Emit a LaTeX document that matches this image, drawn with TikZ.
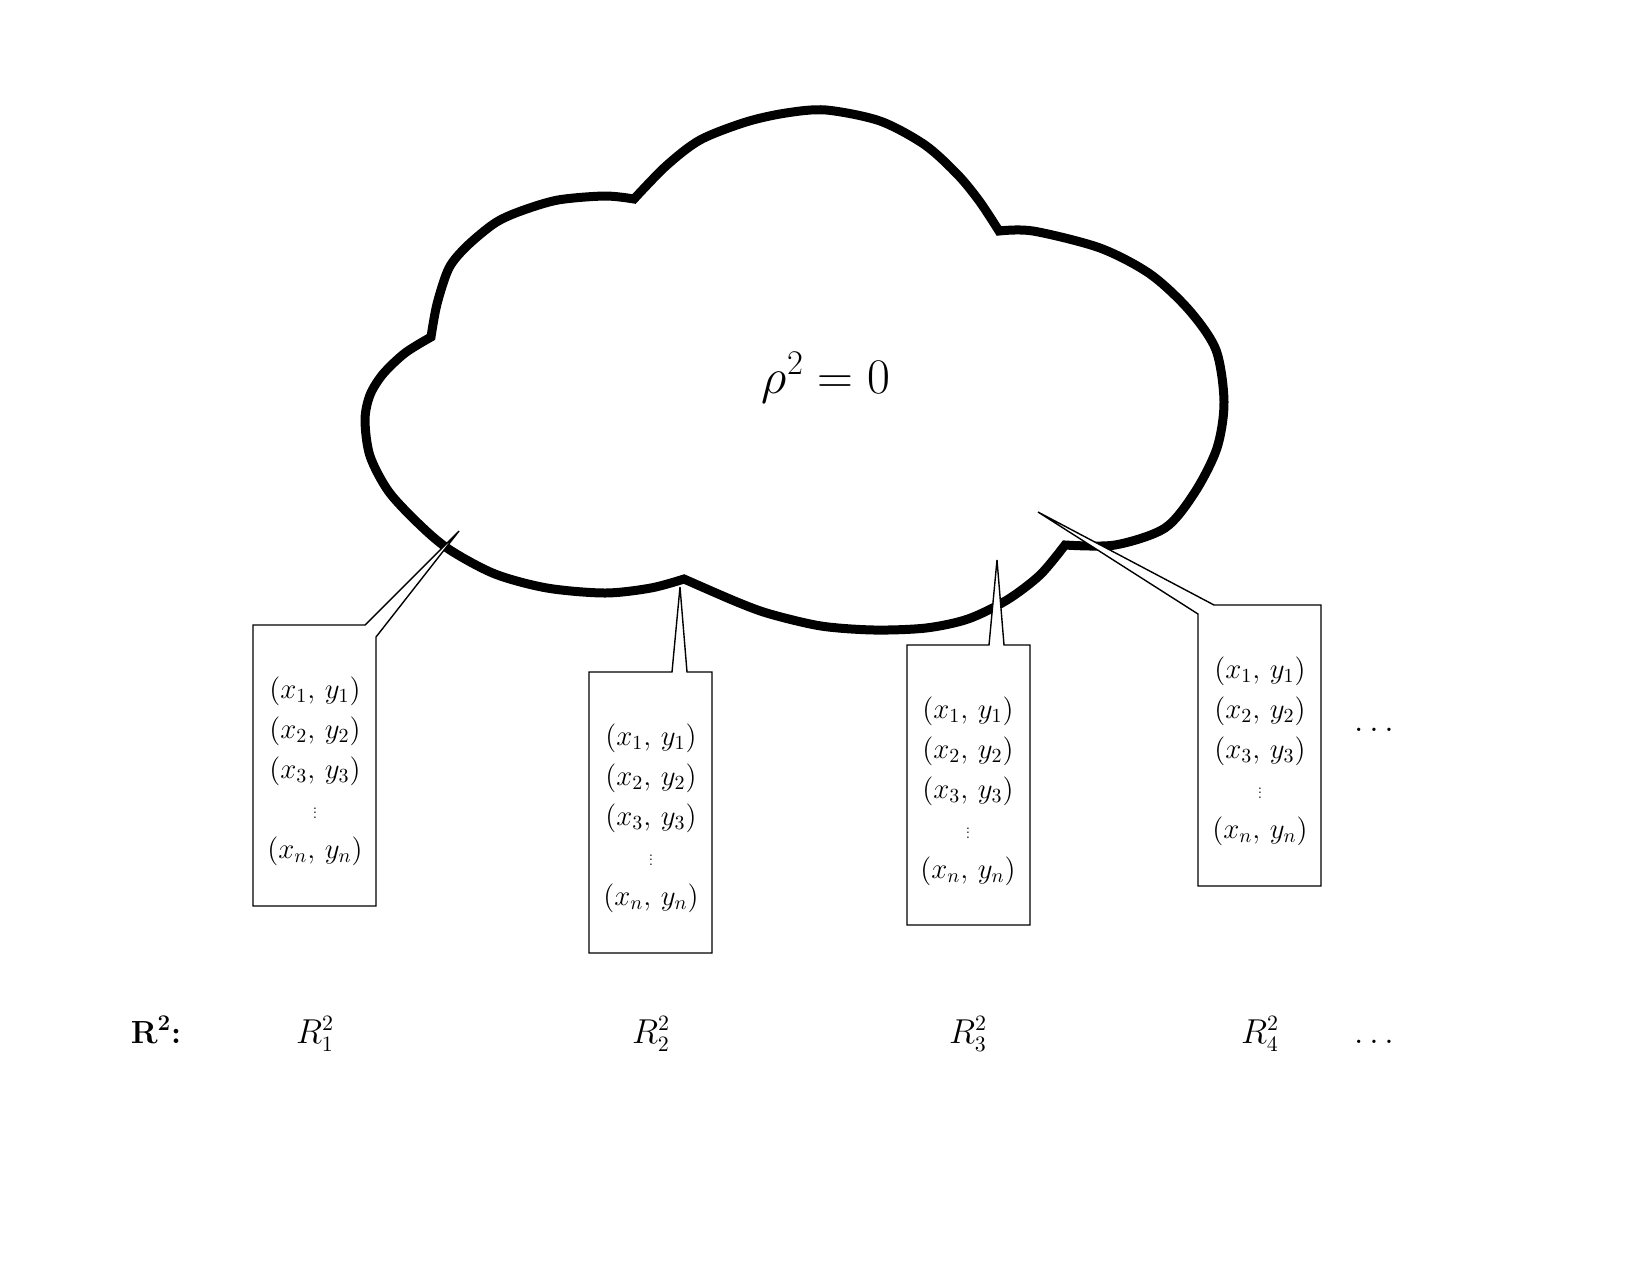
\documentclass[tikz,border=0pt]{standalone}
\usepackage{graphicx}
\newcommand{\ptdots}{\scalebox{0.55}{$\vdots$}}
\newcommand{\ptlist}{$(x_1,\,y_1)$\\ $(x_2,\,y_2)$\\ $(x_3,\,y_3)$\\ \ptdots\\ $(x_n,\,y_n)$}
\begin{document}
\begin{tikzpicture}[x=0.5pt,y=-0.5pt,
  cloudline/.style={line width=4.5pt, line join=miter},
  callout/.style={draw=black, line width=0.7pt, fill=white, line join=miter},
  pts/.style={align=center, inner sep=0pt, font=\fontsize{14.5}{20}\selectfont},
  lbl/.style={inner sep=0pt, font=\fontsize{16}{19}\selectfont, anchor=base}]
\useasboundingbox (0,0) rectangle (1650,1275);

% cloud
\draw[cloudline]
  plot[smooth] coordinates {(634,199) (666,166) (700,140) (746,122) (786,113) (826,110) (880,121) (925,145) (958,175) (980,202) (999,231)}
  -- plot[smooth] coordinates {(999,231) (1033,231) (1100,248) (1150,274) (1189,310) (1216,350) (1224,402) (1217,448) (1195,492) (1165,528) (1115,545) (1065,545)}
  -- plot[smooth] coordinates {(1065,545) (1040,575) (1007,600) (968,619) (926,628) (874,630) (821,626) (770,614) (737,602) (684,579)}
  -- plot[smooth] coordinates {(684,579) (651,588) (605,593) (547,588) (495,574) (450,550) (421,526) (389,492) (370,456) (365,420) (370,395) (383,374) (405,353) (431,337)}
  -- plot[smooth] coordinates {(431,337) (437,304) (449,268) (467,246) (495,223) (521,211) (558,200) (605,196) (634,199)}
  -- cycle;

% rho
\node[inner sep=0pt, anchor=base, font=\fontsize{24}{28}\selectfont] (rho) at (826,393) {$\rho^2 = 0$};

% callout tips
\coordinate (tip1) at (459,531);
\coordinate (tip2) at (680,587);
\coordinate (tip3) at (997,560);
\coordinate (tip4) at (1038,512);

% callouts
\draw[callout] (253,625) -- (365,625) -- (tip1) -- (376,637) -- (376,906) -- (253,906) -- cycle;
\draw[callout] (589,672) -- (672,672) -- (tip2) -- (687,672) -- (712,672) -- (712,953) -- (589,953) -- cycle;
\draw[callout] (907,645) -- (989,645) -- (tip3) -- (1004,645) -- (1030,645) -- (1030,925) -- (907,925) -- cycle;
\draw[callout] (1198,614) -- (tip4) -- (1214,605) -- (1321,605) -- (1321,886) -- (1198,886) -- cycle;

\node[pts] (b1) at (315,771) {\ptlist};
\node[pts] (b2) at (651,818) {\ptlist};
\node[pts] (b3) at (968,791) {\ptlist};
\node[pts] (b4) at (1260,751) {\ptlist};

\node[lbl] (dtop) at (1374,731) {$\ldots$};

% bottom labels
\node[lbl] (rlabel) at (156,1043) {\textbf{R\textsuperscript{2}:}};
\node[lbl] (r1) at (315,1043) {$R_1^2$};
\node[lbl] (r2) at (651,1043) {$R_2^2$};
\node[lbl] (r3) at (968,1043) {$R_3^2$};
\node[lbl] (r4) at (1260,1043) {$R_4^2$};
\node[lbl] (dbot) at (1374,1043) {$\ldots$};
\end{tikzpicture}
\end{document}
